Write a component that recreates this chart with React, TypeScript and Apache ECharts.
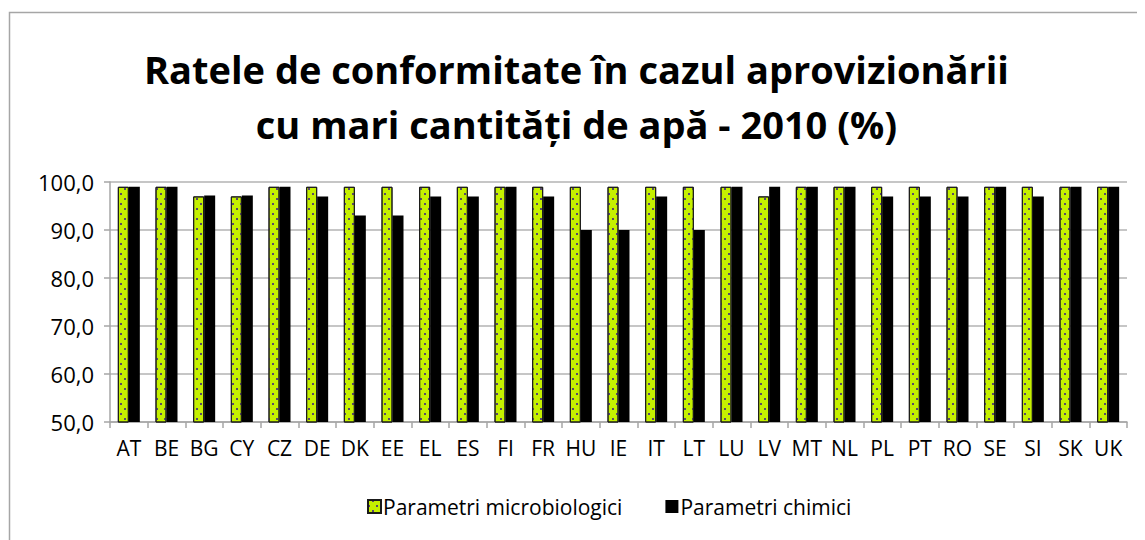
import React, { useEffect, useRef } from "react";
import * as echarts from "echarts";

const categories = ["AT", "BE", "BG", "CY", "CZ", "DE", "DK", "EE", "EL", "ES", "FI", "FR", "HU", "IE", "IT", "LT", "LU", "LV", "MT", "NL", "PL", "PT", "RO", "SE", "SI", "SK", "UK"];
const microValues = [99, 99, 97, 97, 99, 99, 99, 99, 99, 99, 99, 99, 99, 99, 99, 99, 99, 97, 99, 99, 99, 99, 99, 99, 99, 99, 99];
const chemValues = [99, 99, 97.2, 97.2, 99, 97, 93, 93, 97, 97, 99, 97, 90, 90, 97, 90, 99, 99, 99, 99, 97, 97, 97, 99, 97, 99, 99];
const yTicks = { min: 50, max: 100, interval: 10 };

const FONT = "'Open Sans', 'Noto Sans', sans-serif";

export default function App() {
  const ref = useRef<HTMLDivElement>(null);
  useEffect(() => {
    if (!ref.current) return;
    const chart = echarts.init(ref.current, null, { renderer: "svg" });
    chart.setOption({
      animation: false,
      backgroundColor: "#ffffff",
      title: {
        text: "Ratele de conformitate în cazul aprovizionării\ncu mari cantități de apă - 2010 (%)",
        left: "center",
        top: 28,
        textStyle: { fontFamily: FONT, fontWeight: "bold", fontSize: 38, lineHeight: 55, color: "#000" },
      },
      graphic: [
        {
          type: "rect",
          shape: { x: 1.5, y: 4.5, width: 1300, height: 700 },
          style: { fill: "none", stroke: "#a6a6a6", lineWidth: 1.5 },
          silent: true,
          z: 100,
        },
      ],
      legend: {
        bottom: 18,
        left: 354,
        itemWidth: 13,
        itemHeight: 13,
        itemGap: 43,
        icon: "rect",
        textStyle: { fontFamily: FONT, fontSize: 21, color: "#000", padding: [0, 0, 0, -3] },
        data: ["Parametri microbiologici", "Parametri chimici"],
      },
      grid: { left: 102, right: 18, top: 174, bottom: 118, containLabel: false },
      xAxis: {
        type: "category",
        data: categories,
        axisLine: { lineStyle: { color: "#a6a6a6", width: 1.5 } },
        axisTick: { show: true, alignWithLabel: false, length: 6, lineStyle: { color: "#a6a6a6", width: 1.5 } },
        axisLabel: { fontFamily: FONT, fontSize: 21, color: "#000", margin: 15, interval: 0 },
      },
      yAxis: {
        type: "value",
        min: yTicks.min,
        max: yTicks.max,
        interval: yTicks.interval,
        axisLine: { show: true, lineStyle: { color: "#a6a6a6", width: 1.5 } },
        axisTick: { show: true, length: 6, lineStyle: { color: "#a6a6a6", width: 1.5 } },
        splitLine: { lineStyle: { color: "#b3b3b3", width: 1.5 } },
        axisLabel: {
          fontFamily: FONT,
          fontSize: 22,
          color: "#000",
          margin: 16,
          formatter: (v: number) => v.toFixed(1).replace(".", ","),
        },
      },
      series: [
        {
          name: "Parametri microbiologici",
          type: "bar",
          data: microValues,
          barWidth: 11,
          barGap: "0%",
          itemStyle: {
            color: "#c5f000",
            borderColor: "#1a1a1a",
            borderWidth: 1,
            decal: {
              symbol: "rect",
              symbolSize: 1,
              color: "#5a4a6a",
              dashArrayX: [[2, 6], [0, 4, 2, 2]],
              dashArrayY: [2, 3],
              rotation: 0,
            },
          },
        },
        {
          name: "Parametri chimici",
          type: "bar",
          data: chemValues,
          barWidth: 11,
          itemStyle: { color: "#000000" },
        },
      ],
    });
    return () => chart.dispose();
  }, []);
  return <div ref={ref} style={{ width: 1137, height: 532 }} />;
}
